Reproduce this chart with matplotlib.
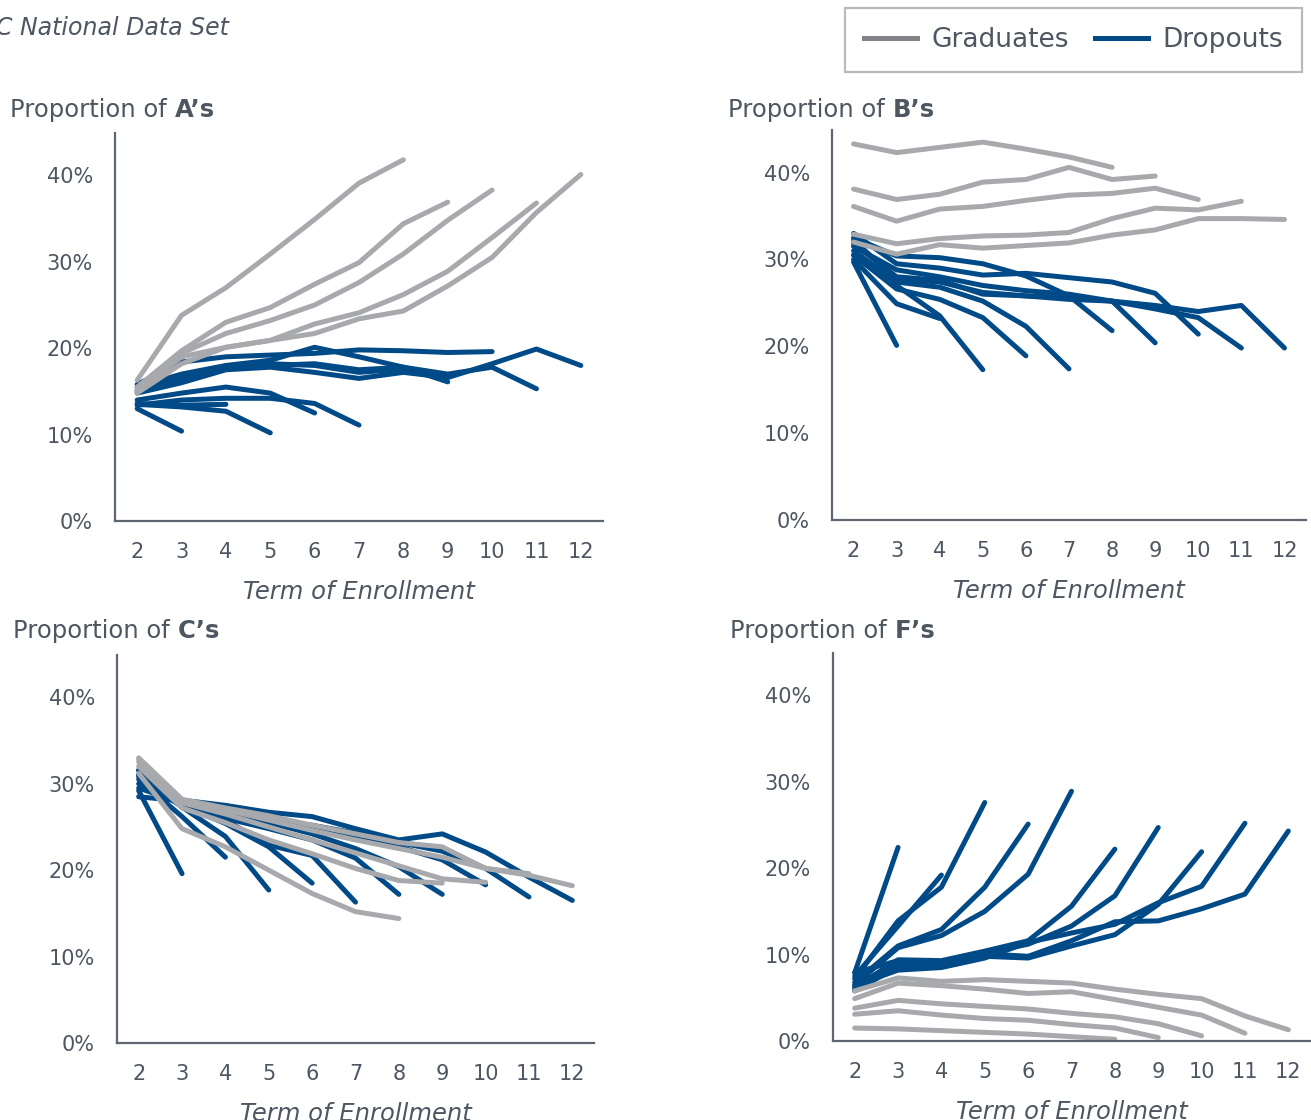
import matplotlib
matplotlib.use("Agg")
import matplotlib.pyplot as plt
from matplotlib.lines import Line2D
from matplotlib.ticker import FuncFormatter

# terms of enrollment (every series starts at term 2)
terms = list(range(2, 13))

# Proportion of A's
a_grads = [
    [16.3, 23.8, 27.0, 30.9, 34.9, 39.1, 41.8],
    [15.5, 19.7, 23.0, 24.7, 27.4, 29.9, 34.4, 36.9],
    [15.2, 19.4, 21.7, 23.2, 25.0, 27.6, 30.9, 34.8, 38.3],
    [15.0, 19.0, 20.1, 20.9, 22.8, 24.1, 26.2, 28.9, 32.8, 36.8],
    [14.8, 18.2, 20.1, 20.9, 21.7, 23.4, 24.3, 27.2, 30.5, 35.7, 40.1],
]
a_drops = [
    [13.0, 10.4],
    [13.6, 13.4, 13.5],
    [13.5, 13.2, 12.7, 10.2],
    [14.0, 14.8, 15.5, 14.8, 12.5],
    [13.4, 14.0, 14.2, 14.2, 13.6, 11.1],
    [15.0, 16.8, 17.8, 18.2, 18.0, 17.2, 17.6],
    [15.5, 17.0, 18.0, 18.6, 20.1, 19.0, 17.8, 16.1],
    [15.8, 18.4, 19.0, 19.2, 19.4, 19.8, 19.7, 19.5, 19.6],
    [15.2, 16.5, 17.8, 18.0, 18.2, 17.5, 17.8, 17.0, 17.8, 15.3],
    [14.8, 16.0, 17.5, 17.8, 17.2, 16.5, 17.2, 16.6, 18.2, 19.9, 18.0],
]

# Proportion of B's
b_grads = [
    [43.3, 42.3, 42.9, 43.5, 42.7, 41.8, 40.6],
    [38.1, 36.9, 37.5, 38.9, 39.2, 40.6, 39.2, 39.6],
    [36.1, 34.4, 35.8, 36.1, 36.8, 37.4, 37.6, 38.2, 36.9],
    [32.9, 31.8, 32.4, 32.7, 32.8, 33.1, 34.7, 35.9, 35.7, 36.7],
    [32.0, 30.6, 31.7, 31.3, 31.6, 31.9, 32.8, 33.4, 34.7, 34.7, 34.6],
]
b_drops = [
    [29.7, 20.1],
    [30.0, 24.9, 23.2],
    [30.5, 27.0, 23.5, 17.3],
    [30.5, 26.6, 25.4, 23.3, 18.9],
    [31.0, 27.4, 26.8, 25.2, 22.3, 17.4],
    [32.5, 30.4, 30.2, 29.5, 28.1, 25.8, 21.8],
    [31.5, 28.8, 28.0, 27.0, 26.4, 26.0, 25.2, 20.4],
    [33.0, 29.5, 29.0, 28.2, 28.4, 27.9, 27.4, 26.1, 21.4],
    [31.8, 28.0, 27.6, 26.0, 25.8, 25.6, 25.2, 24.3, 23.3, 19.8],
    [32.2, 27.7, 27.4, 26.2, 25.8, 25.4, 25.2, 24.7, 24.0, 24.7, 19.8],
]

# Proportion of C's
c_grads = [
    [31.2, 24.8, 22.7, 20.0, 17.3, 15.2, 14.4],
    [32.0, 27.2, 25.5, 23.5, 21.9, 20.2, 18.8, 18.5],
    [32.5, 27.8, 26.5, 25.0, 23.5, 22.0, 20.5, 19.0, 18.6],
    [32.8, 28.0, 27.0, 25.8, 24.6, 23.5, 22.5, 21.5, 20.2, 19.6],
    [33.0, 28.2, 27.2, 26.3, 25.2, 24.2, 23.2, 22.7, 20.2, 19.4, 18.2],
]
c_drops = [
    [29.2, 19.6],
    [30.5, 26.2, 21.5],
    [31.0, 27.3, 23.9, 17.7],
    [30.0, 27.5, 25.4, 22.7, 18.5],
    [31.5, 27.6, 25.8, 22.9, 21.7, 16.3],
    [30.8, 27.8, 26.0, 24.8, 23.5, 21.4, 17.2],
    [31.0, 27.9, 26.6, 25.5, 24.2, 22.5, 20.4, 17.2],
    [28.5, 28.0, 27.0, 26.0, 25.0, 24.0, 22.7, 21.2, 18.3],
    [29.5, 27.8, 26.8, 25.8, 25.2, 24.3, 23.2, 22.2, 20.2, 16.9],
    [31.6, 28.1, 27.5, 26.7, 26.2, 24.8, 23.5, 24.2, 22.1, 19.2, 16.5],
]

# Proportion of F's
f_grads = [
    [1.5, 1.4, 1.2, 1.0, 0.8, 0.5, 0.2],
    [3.1, 3.5, 3.0, 2.6, 2.4, 1.9, 1.5, 0.4],
    [3.8, 4.7, 4.3, 4.0, 3.7, 3.2, 2.8, 2.0, 0.6],
    [4.9, 6.7, 6.4, 6.0, 5.5, 5.7, 4.8, 3.9, 3.0, 0.9],
    [5.8, 7.3, 6.9, 7.1, 6.9, 6.7, 6.0, 5.4, 4.9, 2.9, 1.3],
]
f_drops = [
    [7.9, 22.4],
    [7.5, 13.3, 19.2],
    [7.2, 13.9, 17.8, 27.6],
    [6.8, 11.0, 12.9, 17.8, 25.1],
    [6.5, 10.8, 12.2, 15.0, 19.3, 28.9],
    [6.2, 9.4, 9.3, 10.4, 11.6, 15.6, 22.2],
    [6.0, 9.0, 9.0, 10.2, 11.2, 13.3, 16.8, 24.7],
    [5.8, 8.6, 8.8, 9.8, 9.6, 11.0, 12.3, 15.8, 21.9],
    [6.4, 8.2, 8.5, 9.6, 11.4, 12.5, 13.5, 16.0, 17.9, 25.2],
    [7.9, 9.3, 9.1, 10.1, 9.8, 11.6, 13.8, 13.9, 15.3, 17.0, 24.3],
]

panels = [
    ("A\u2019s", a_grads, a_drops, [115, 603, 133, 521], (10, 110)),
    ("B\u2019s", b_grads, b_drops, [832, 1306, 130, 520], (728, 110)),
    ("C\u2019s", c_grads, c_drops, [117, 594, 655, 1043], (13, 631)),
    ("F\u2019s", f_grads, f_drops, [833, 1310, 653, 1041], (730, 631)),
]

W, H = 1311, 1120
grey = "#a7a9ac"
blue = "#004a87"
txt = "#4d5661"
spine = "#5f6670"

plt.rcParams["font.family"] = ["DejaVu Sans"]

fig = plt.figure(figsize=(W / 100, H / 100), dpi=100)

for letter, grads, drops, (l, r, t, b), (tx, ty) in panels:
    ax = fig.add_axes([l / W, 1 - b / H, (r - l) / W, (b - t) / H])
    # dropouts first, graduates drawn on top
    for s in drops:
        ax.plot(terms[:len(s)], [v / 100 for v in s], color=blue, lw=3.6,
                solid_capstyle="round", solid_joinstyle="round")
    for s in grads:
        ax.plot(terms[:len(s)], [v / 100 for v in s], color=grey, lw=3.6,
                solid_capstyle="round", solid_joinstyle="round")
    ax.set_xlim(1.5, 12.5)
    ax.set_ylim(0, 0.449)
    ax.set_xticks(terms)
    ax.set_yticks([0, 0.1, 0.2, 0.3, 0.4])
    ax.yaxis.set_major_formatter(FuncFormatter(lambda v, p: f"{v * 100:.0f}%"))
    ax.tick_params(length=0, labelsize=15, colors=txt)
    ax.tick_params(axis="x", pad=15)
    ax.tick_params(axis="y", pad=16)
    for side in ("top", "right"):
        ax.spines[side].set_visible(False)
    for side in ("left", "bottom"):
        ax.spines[side].set_color(spine)
        ax.spines[side].set_linewidth(1.6)
    ax.set_xlabel("Term of Enrollment", fontsize=17.5, style="italic",
                  color=txt, labelpad=13)
    t1 = fig.text(tx / W, 1 - ty / H, "Proportion of ", fontsize=17.5,
                  color=txt, ha="left", va="center")
    ax.annotate(letter, xy=(1, 0), xycoords=t1, ha="left", va="bottom",
                fontsize=17.5, color=txt, weight="bold",
                annotation_clip=False)

fig.text(-4 / W, 1 - 28 / H, "C National Data Set", fontsize=17,
         style="italic", color=txt, ha="left", va="center")

handles = [Line2D([], [], color="#808285", lw=3.6),
           Line2D([], [], color=blue, lw=3.6)]
fig.legend(handles, ["Graduates", "Dropouts"], ncol=2, fontsize=19,
           loc="upper right", bbox_to_anchor=(1302 / W, 1 - 8 / H),
           frameon=True, fancybox=False, edgecolor="#a7a9ac",
           handlelength=2.0, handletextpad=0.55, columnspacing=1.0,
           borderpad=0.72, labelcolor=txt, borderaxespad=0)
fig.legends[-1].get_frame().set_linewidth(1.6)

fig.savefig("out.png", dpi=100)
